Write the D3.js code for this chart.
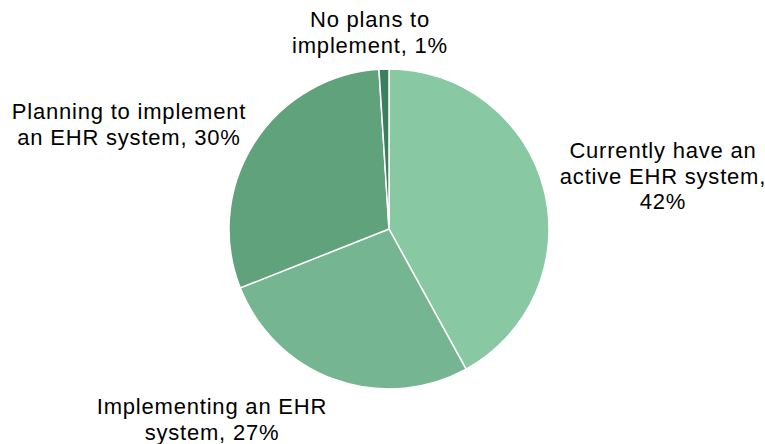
<!DOCTYPE html>
<html>
<head>
<meta charset="utf-8">
<script src="https://cdn.jsdelivr.net/npm/d3@7"></script>
<style>
  html, body { margin: 0; padding: 0; background: #fff; }
  svg text { font-family: "Liberation Sans", Arial, sans-serif; font-size: 22px; fill: #000; }
</style>
</head>
<body>
<svg id="chart" width="765" height="444"></svg>
<script>
// EHR adoption status, share of respondents (%)
const categories = [
  "Currently have an active EHR system",
  "Implementing an EHR system",
  "Planning to implement an EHR system",
  "No plans to implement"
];
const values = [42, 27, 30, 1];
const colors = ["#88c8a3", "#75b592", "#5fa27b", "#3c7e5e"];
// Label lines as printed beside each slice
const labelLines = [
  ["Currently have an", "active EHR system,", "42%"],
  ["Implementing an EHR", "system, 27%"],
  ["Planning to implement", "an EHR system, 30%"],
  ["No plans to", "implement, 1%"]
];
// label centre x and first baseline y
const labelAnchors = [[663, 158], [212, 414], [129, 119], [370, 27]];

const svg = d3.select("#chart");
const cx = 389, cy = 229, r = 160;

const data = categories.map((c, i) => ({ name: c, value: values[i], i }));
const pie = d3.pie().value(d => d.value).sort(null);
const arc = d3.arc().innerRadius(0).outerRadius(r);

const g = svg.append("g").attr("transform", `translate(${cx},${cy})`);
g.selectAll("path")
  .data(pie(data))
  .join("path")
  .attr("d", arc)
  .attr("fill", d => colors[d.data.i])
  .attr("stroke", "#fff")
  .attr("stroke-width", 1.5)
  .attr("stroke-linejoin", "round");

const lineH = 25.5;
svg.selectAll("text.lbl")
  .data(data)
  .join("text")
  .attr("class", "lbl")
  .attr("text-anchor", "middle")
  .attr("letter-spacing", "0.8")
  .each(function (d) {
    const [x, y] = labelAnchors[d.i];
    d3.select(this).selectAll("tspan")
      .data(labelLines[d.i])
      .join("tspan")
      .attr("x", x)
      .attr("y", (t, k) => y + k * lineH)
      .text(t => t);
  });
</script>
</body>
</html>
